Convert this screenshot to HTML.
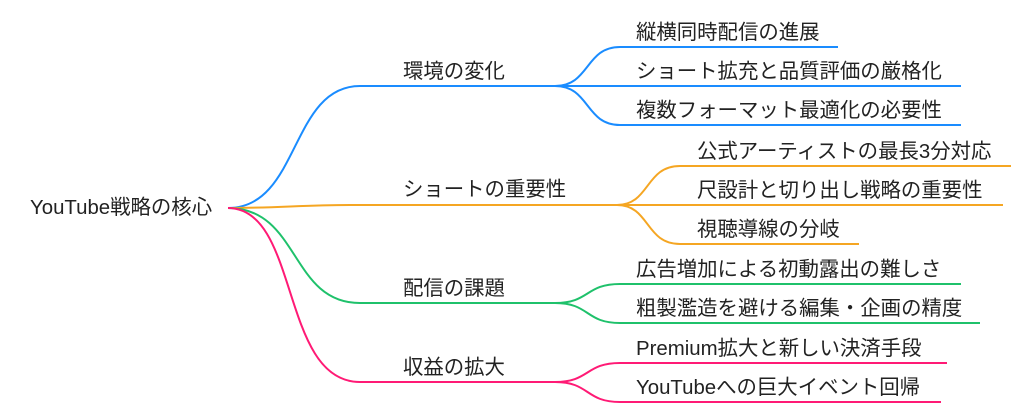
<!DOCTYPE html>
<html><head><meta charset="utf-8"><style>
body{margin:0;background:#fff;width:1024px;height:416px;overflow:hidden;position:relative;font-family:"Liberation Sans","Noto Sans CJK JP",sans-serif;color:#222}
.t{position:absolute;font-size:20.4px;white-space:nowrap;line-height:22px}
svg{position:absolute;left:0;top:0}
</style></head><body>
<svg width="1024" height="416" fill="none" stroke-width="2">
<g stroke="#1a8cff">
<path d="M228 208 C300 208 290 86 360 86 L555 86"/>
<path d="M555 86 C590 86 585 47 620 47 L838 47"/>
<path d="M555 86 L961 86"/>
<path d="M555 86 C590 86 585 125 620 125 L961 125"/>
</g>
<g stroke="#f5a623">
<path d="M228 208 C280 208 300 205 350 205 L617 205"/>
<path d="M617 205 C650 205 645 166 680 166 L1011 166"/>
<path d="M617 205 L1003 205"/>
<path d="M617 205 C650 205 645 244 680 244 L859 244"/>
</g>
<g stroke="#1fc16b">
<path d="M228 208 C300 208 290 303 360 303 L555 303"/>
<path d="M555 303 C590 303 585 284 620 284 L961 284"/>
<path d="M555 303 C590 303 585 323 620 323 L980 323"/>
</g>
<g stroke="#ff1a75">
<path d="M228 208 C300 208 280 382 360 382 L555 382"/>
<path d="M555 382 C590 382 585 363 620 363 L947 363"/>
<path d="M555 382 C590 382 585 402 620 402 L941 402"/>
</g>
</svg>
<div class="t" style="left:30px;top:197px">YouTube戦略の核心</div>
<div class="t" style="left:403px;top:61px">環境の変化</div>
<div class="t" style="left:403px;top:179px">ショートの重要性</div>
<div class="t" style="left:403px;top:278px">配信の課題</div>
<div class="t" style="left:403px;top:357px">収益の拡大</div>
<div class="t" style="left:636px;top:22px">縦横同時配信の進展</div>
<div class="t" style="left:636px;top:61px">ショート拡充と品質評価の厳格化</div>
<div class="t" style="left:636px;top:100px">複数フォーマット最適化の必要性</div>
<div class="t" style="left:697px;top:141px">公式アーティストの最長3分対応</div>
<div class="t" style="left:697px;top:180px">尺設計と切り出し戦略の重要性</div>
<div class="t" style="left:697px;top:219px">視聴導線の分岐</div>
<div class="t" style="left:636px;top:259px">広告増加による初動露出の難しさ</div>
<div class="t" style="left:636px;top:298px">粗製濫造を避ける編集・企画の精度</div>
<div class="t" style="left:636px;top:338px">Premium拡大と新しい決済手段</div>
<div class="t" style="left:636px;top:377px">YouTubeへの巨大イベント回帰</div>
</body></html>
